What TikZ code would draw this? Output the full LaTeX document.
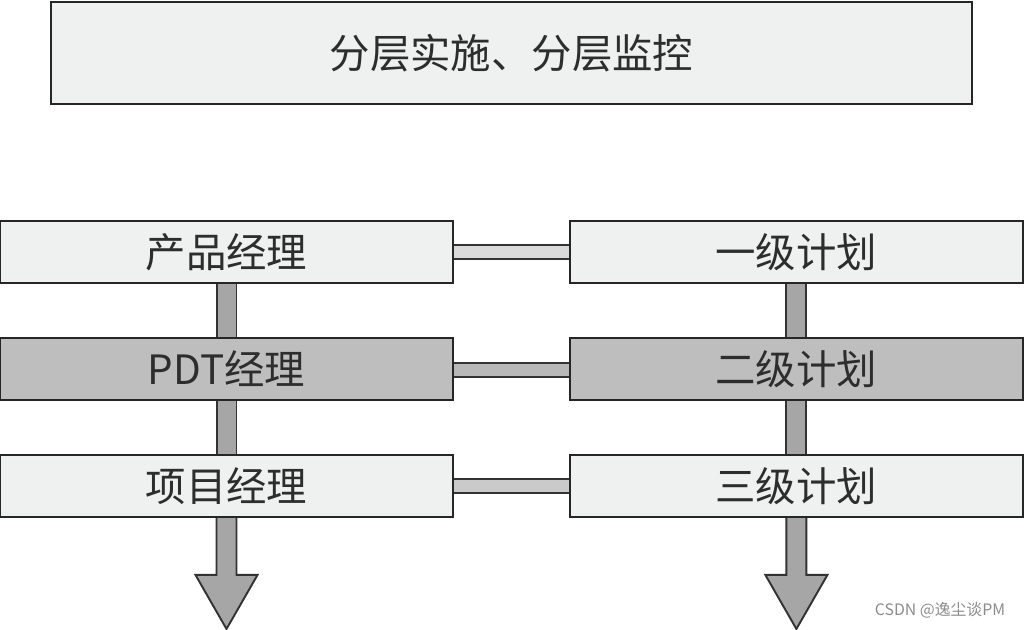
\documentclass[tikz,border=0pt]{standalone}
\usepackage{fontspec}
\newfontfamily\cjk{Noto Sans CJK SC}
\usepackage{tikz}
\usetikzlibrary{positioning,calc,backgrounds}
\definecolor{BoxLight}{RGB}{239,240,240}
\definecolor{BoxMid}{RGB}{190,190,190}
\definecolor{BarLight}{RGB}{218,218,218}
\definecolor{BarMid}{RGB}{184,184,184}
\definecolor{BarLow}{RGB}{202,202,202}
\definecolor{ShaftGray}{RGB}{166,166,166}
\definecolor{DarkText}{RGB}{45,45,45}

\begin{document}
\begin{tikzpicture}[x=0.02cm, y=-0.02cm,
    levelbox/.style={rectangle, draw=black!85, line width=1.2pt, fill=BoxLight,
        minimum width=9.06cm, minimum height=1.24cm, inner sep=0pt, outer sep=0pt,
        font=\cjk\fontsize{23}{28}\selectfont, text=DarkText},
    hbar/.style={draw=black!80, line width=1.2pt, double distance=0.24cm},
    vbar/.style={draw=black!80, line width=1.1pt, double=ShaftGray, double distance=0.36cm},
    bigarrow/.style={draw=black!80, line width=1.1pt, fill=ShaftGray, line join=miter},
    credittext/.style={font=\cjk\fontsize{9}{11}\selectfont, text=black!45},
]
\useasboundingbox (0,0) rectangle (1024,629);

% title box
\node[levelbox, minimum width=18.42cm, minimum height=2.04cm] (top) at (511.5,53) {分层实施、分层监控};

% roles and plans
\node[levelbox] (pm) at (226.5,252) {产品经理};
\node[levelbox, right=2.34cm of pm] (plan1) {一级计划};
\node[levelbox, fill=BoxMid, below=1.1cm of pm] (pdt) {PDT经理};
\node[levelbox, fill=BoxMid, right=2.34cm of pdt] (plan2) {二级计划};
\node[levelbox, below=1.1cm of pdt] (proj) {项目经理};
\node[levelbox, right=2.34cm of proj] (plan3) {三级计划};

\begin{scope}[on background layer]
\draw[hbar, double=BarLight] (pm) -- (plan1);
\draw[hbar, double=BarMid] ([yshift=-0.02cm]pdt.east) -- ([yshift=-0.02cm]plan2.west);
\draw[hbar, double=BarLow] (proj) -- (plan3);

\draw[vbar] (pm) -- (pdt);
\draw[vbar] (pdt) -- (proj);
\draw[vbar] (plan1) -- (plan2);
\draw[vbar] (plan2) -- (plan3);

% downward arrows
\draw[bigarrow] ([xshift=-0.2cm]proj.south) -- ++(0,58) -- ++(-21,0) -- ++(31,54)
    -- ++(31,-54) -- ++(-21,0) -- ([xshift=0.2cm]proj.south);
\draw[bigarrow] ([xshift=-0.2cm]plan3.south) -- ++(0,58) -- ++(-21,0) -- ++(31,54)
    -- ++(31,-54) -- ++(-21,0) -- ([xshift=0.2cm]plan3.south);
\end{scope}

\node[credittext] (credit) at (940,610) {CSDN @逸尘谈PM};
\end{tikzpicture}
\end{document}
